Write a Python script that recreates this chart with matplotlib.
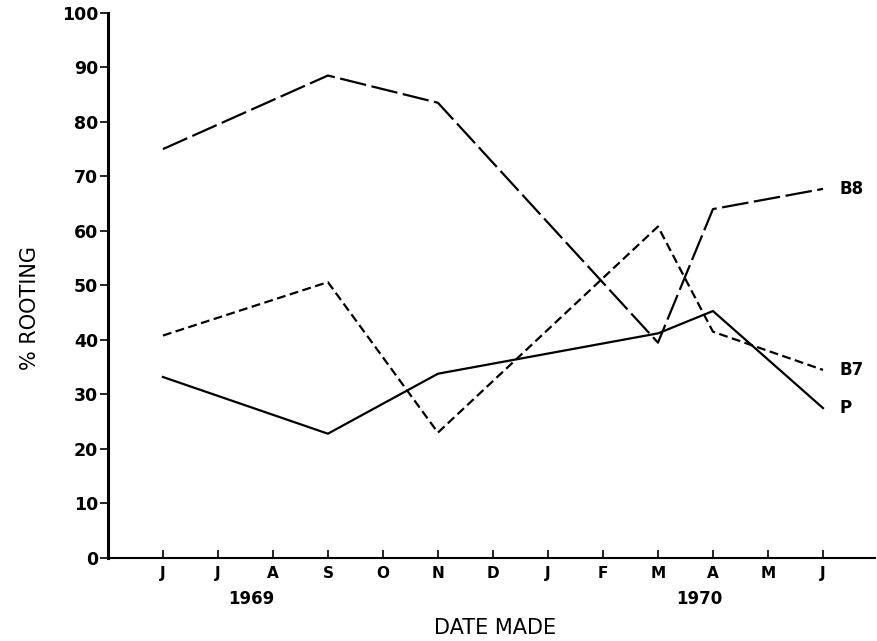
import matplotlib.pyplot as plt

# Data
months = ["J", "J", "A", "S", "O", "N", "D", "J", "F", "M", "A", "M", "J"]
x_idx = [0, 3, 5, 9, 10, 12]          # J, S, N, M, A, J
b8 = [75, 88.5, 83.5, 39.5, 64, 67.7]
b7 = [40.8, 50.6, 23, 60.8, 41.5, 34.5]
p = [33.2, 22.8, 33.8, 41.2, 45.3, 27.5]
years = ["1969", "1970"]
year_pos = [1.6, 9.75]

fig = plt.figure(figsize=(8.77, 6.41), dpi=100)
ax = fig.add_axes([0.123, 0.1295, 0.875, 0.8505])

ax.plot(x_idx, b8, color="black", lw=1.6, dashes=(12, 2.5))
ax.plot(x_idx, b7, color="black", lw=1.6, dashes=(4, 2))
ax.plot(x_idx, p, color="black", lw=1.6)

for lab, vals in zip(["B8", "B7", "P"], [b8, b7, p]):
    ax.text(12.3, vals[-1], lab, ha="left", va="center", fontsize=12,
            fontweight="bold", clip_on=False)

ax.set_xlim(-1, 12.95)
ax.set_ylim(0, 100)
ax.set_xticks(range(len(months)))
ax.set_xticklabels(months, fontsize=11, fontweight="bold")
ax.set_yticks(range(0, 101, 10))
ax.set_yticklabels([str(v) for v in range(0, 101, 10)], fontsize=12.5,
                   fontweight="bold")
ax.tick_params(axis="x", direction="in", length=6, width=1.2, pad=6)
ax.tick_params(axis="y", direction="out", length=6, width=1.2, pad=1)

ax.spines["top"].set_visible(False)
ax.spines["right"].set_visible(False)
ax.spines["left"].set_linewidth(2.2)
ax.spines["bottom"].set_linewidth(1.5)

for yr, pos in zip(years, year_pos):
    ax.text(pos, -0.075, yr, transform=ax.get_xaxis_transform(), ha="center",
            va="center", fontsize=12, fontweight="bold")

ax.set_xlabel("DATE MADE", fontsize=15)
ax.xaxis.set_label_coords(0.505, -0.11)
fig.text(0.034, 0.52, "% ROOTING", rotation=90, ha="center", va="center",
         fontsize=15)

fig.savefig("out.png", dpi=100)
